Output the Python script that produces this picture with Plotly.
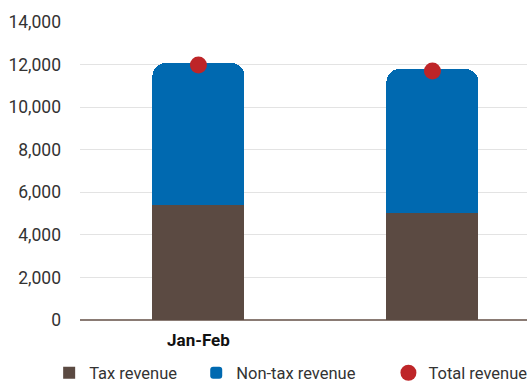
import plotly.graph_objects as go

categories = ["Jan-Feb", " "]
tax_revenue = [5400, 5020]
non_tax_revenue = [6670, 6770]
total_revenue = [11980, 11700]
y_ticks = [0, 2000, 4000, 6000, 8000, 10000, 12000, 14000]

BROWN = "#5b4a42"
BLUE = "#0069b0"
RED = "#be2528"
FONT = "Roboto"

fig = go.Figure()
fig.add_trace(go.Bar(name="Tax revenue", x=categories, y=tax_revenue,
                     marker=dict(color=BROWN, line=dict(width=0)), width=0.393,
                     legend="legend"))
fig.add_trace(go.Bar(name="Non-tax revenue", x=categories, y=non_tax_revenue,
                     marker=dict(color=BLUE, line=dict(width=0), cornerradius=13), width=0.393,
                     legend="legend2"))
fig.add_trace(go.Scatter(name="Total revenue", x=categories, y=total_revenue, mode="markers",
                         marker=dict(color=RED, size=17), legend="legend3"))

leg = dict(orientation="h", yanchor="middle", y=-0.178, xanchor="left",
           font=dict(family=FONT, size=16.5, color="#333333"), bgcolor="rgba(0,0,0,0)",
           itemwidth=30)

fig.update_layout(
    width=527, height=383,
    margin=dict(l=80, r=0, t=22, b=63, autoexpand=False),
    barmode="stack",
    plot_bgcolor="white", paper_bgcolor="white",
    font=dict(family=FONT, size=17, color="#333333"),
    xaxis=dict(type="category", range=[-0.506, 1.404], showgrid=False,
               tickfont=dict(family=FONT, size=17, color="#111111", weight="bold"),
               showline=False, ticks="", zeroline=False, ticklabelstandoff=8),
    yaxis=dict(range=[0, 14000], tickvals=y_ticks, tickformat=",", showgrid=True,
               gridcolor="#e3e3e3", gridwidth=1, zeroline=True, zerolinecolor="#8a7b74",
               zerolinewidth=1.5, ticks="", ticklabelstandoff=18,
               tickfont=dict(family=FONT, size=17.5, color="#333333")),
    showlegend=True,
    legend=dict(leg, x=-0.069),
    legend2=dict(leg, x=0.26),
    legend3=dict(leg, x=0.69),
)

fig.write_html("out.html")
